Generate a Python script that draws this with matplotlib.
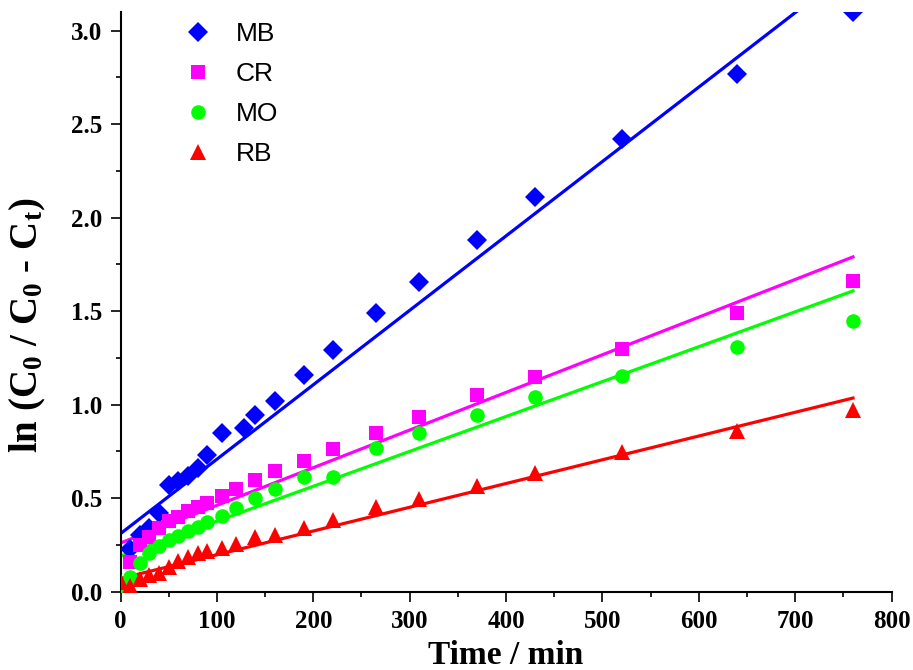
import numpy as np
import matplotlib
matplotlib.use("Agg")
import matplotlib.pyplot as plt
from matplotlib.ticker import MultipleLocator

plt.rcParams["font.family"] = ["Liberation Serif", "DejaVu Serif"]
plt.rcParams["mathtext.fontset"] = "custom"
plt.rcParams["mathtext.rm"] = "Liberation Serif:bold"
plt.rcParams["mathtext.it"] = "Liberation Serif:bold"
plt.rcParams["mathtext.default"] = "rm"

# sampling times (min)
time = [0, 10, 20, 30, 40, 50, 60, 70, 80, 90, 105, 120, 140, 160, 190,
        220, 265, 310, 370, 430, 520, 640, 760]
time_mb = [10, 20, 30, 40, 50, 60, 70, 80, 90, 105, 128, 140, 160, 190,
           220, 265, 310, 370, 430, 520, 640, 760]
time_cr = time[1:]

# ln(C0 / (C0 - Ct)) for each dye
mb = [0.23, 0.305, 0.34, 0.42, 0.57, 0.59, 0.62, 0.66, 0.73, 0.85, 0.875,
      0.945, 1.02, 1.16, 1.29, 1.49, 1.655, 1.88, 2.11, 2.42, 2.77, 3.10]
cr = [0.16, 0.25, 0.29, 0.34, 0.38, 0.40, 0.43, 0.455, 0.475, 0.51, 0.55,
      0.595, 0.645, 0.70, 0.765, 0.85, 0.935, 1.05, 1.15, 1.30, 1.49, 1.66]
mo = [0.025, 0.08, 0.155, 0.205, 0.245, 0.275, 0.30, 0.325, 0.345, 0.37,
      0.405, 0.445, 0.50, 0.548, 0.615, 0.615, 0.77, 0.85, 0.945, 1.04,
      1.155, 1.31, 1.445]
rb = [0.05, 0.03, 0.07, 0.09, 0.10, 0.13, 0.165, 0.185, 0.205, 0.215,
      0.235, 0.255, 0.29, 0.305, 0.34, 0.385, 0.45, 0.495, 0.565, 0.635,
      0.745, 0.86, 0.97]

# linear fits: intercept, slope (1/min)
fit_intercept = [0.31, 0.26, 0.19, 0.07]
fit_slope = [0.00398, 0.002013, 0.001866, 0.00127]

labels = ["MB", "CR", "MO", "RB"]
colors = ["#0000FF", "#FF00FF", "#00FF00", "#FF0000"]
markers = ["D", "s", "o", "^"]
msizes = [10.5, 9.5, 10.5, 12.0]

fig = plt.figure(figsize=(9.13, 6.70), dpi=100)
ax = fig.add_axes([0.132, 0.117, 0.8445, 0.8652])

t_fit = np.array([0, 760])
series = [(time_mb, mb), (time_cr, cr), (time, mo), (time, rb)]
for i, (tx, vals) in enumerate(series):
    ax.plot(t_fit, fit_intercept[i] + fit_slope[i] * t_fit, color=colors[i],
            lw=2.3, zorder=2)
for i, (tx, vals) in enumerate(series):
    ax.plot(tx, vals, ls="none", marker=markers[i], ms=msizes[i],
            color=colors[i], mew=0, label=labels[i], zorder=3)

ax.set_xlim(0, 800)
ax.set_ylim(0, 3.1)
ax.xaxis.set_major_locator(MultipleLocator(100))
ax.xaxis.set_minor_locator(MultipleLocator(50))
ax.yaxis.set_major_locator(MultipleLocator(0.5))
ax.yaxis.set_minor_locator(MultipleLocator(0.25))
ax.yaxis.set_major_formatter(lambda v, p: f"{v:.1f}")

for s in ["top", "right"]:
    ax.spines[s].set_visible(False)
for s in ["left", "bottom"]:
    ax.spines[s].set_linewidth(1.5)

ax.tick_params(which="major", direction="out", length=7, width=1.2,
               labelsize=18, pad=6)
ax.tick_params(which="minor", direction="out", length=3.5, width=1.2)
for lab in ax.get_xticklabels() + ax.get_yticklabels():
    lab.set_fontweight("bold")

ax.set_xlabel("Time / min", fontsize=24, fontweight="bold", labelpad=5)
ax.set_ylabel("ln (C$_0$ / C$_0$ - C$_t$)", fontsize=28, fontweight="bold")
ax.yaxis.set_label_coords(-0.094, 0.46)

ax.legend(loc="upper left", bbox_to_anchor=(0.0834, 0.982), frameon=False,
          numpoints=1, handlelength=1.0, handletextpad=0.94, labelspacing=0.6,
          borderpad=0, borderaxespad=0,
          prop={"family": "Liberation Sans", "size": 19})

fig.savefig("out.png", dpi=100)
